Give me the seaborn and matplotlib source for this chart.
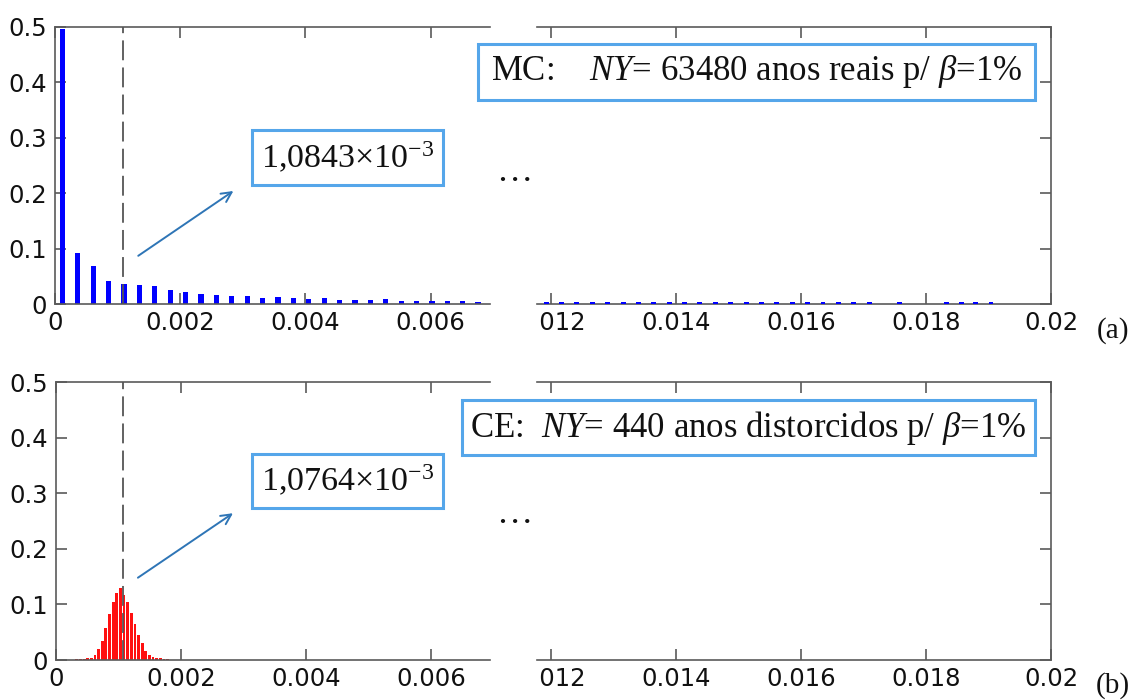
import matplotlib
matplotlib.use("Agg")
import matplotlib.pyplot as plt
from matplotlib.patches import Rectangle
from matplotlib.ticker import FixedLocator, FuncFormatter
import seaborn as sns

# ---- data -------------------------------------------------------------
# (a) Monte Carlo histogram, bins below 0.007
mc_left_x = [0.000118, 0.000364, 0.000610, 0.000856, 0.001102, 0.001348,
             0.001594, 0.001840, 0.002086, 0.002332, 0.002578, 0.002824,
             0.003070, 0.003316, 0.003562, 0.003808, 0.004054, 0.004300,
             0.004546, 0.004792, 0.005038, 0.005284, 0.005530, 0.005776,
             0.006022, 0.006268, 0.006514, 0.006760]
mc_left_p = [0.497, 0.092, 0.069, 0.041, 0.037, 0.035, 0.032, 0.025,
             0.021, 0.018, 0.016, 0.014, 0.0137, 0.011, 0.012, 0.010,
             0.0095, 0.010, 0.0078, 0.0078, 0.0078, 0.0085, 0.0054,
             0.0054, 0.0054, 0.0054, 0.0054, 0.0036]
# (a) Monte Carlo histogram, tail bins above 0.0118
mc_right_x = [0.011926, 0.012172, 0.012418, 0.012664, 0.012910, 0.013156,
              0.013402, 0.013648, 0.013894, 0.014140, 0.014386, 0.014632,
              0.014878, 0.015124, 0.015370, 0.015616, 0.015862, 0.016108,
              0.016354, 0.016600, 0.016846, 0.017092, 0.017584, 0.018322,
              0.018568, 0.018800, 0.019040]
mc_right_p = [0.0032, 0.0032, 0.0032, 0.003, 0.003, 0.003, 0.003, 0.003,
              0.003, 0.003, 0.003, 0.003, 0.003, 0.003, 0.003, 0.003,
              0.003, 0.003, 0.003, 0.003, 0.003, 0.003, 0.003, 0.003,
              0.003, 0.003, 0.0028]

# (b) cross-entropy histogram
ce_x = [0.000334, 0.000392, 0.000450, 0.000508, 0.000566, 0.000624,
        0.000682, 0.000740, 0.000798, 0.000856, 0.000914, 0.000972,
        0.001030, 0.001088, 0.001146, 0.001204, 0.001262, 0.001320,
        0.001378, 0.001436, 0.001494, 0.001552, 0.001610, 0.001668,
        0.001726, 0.001784]
ce_p = [0.0015, 0.002, 0.002, 0.003, 0.004, 0.009, 0.019, 0.035, 0.057,
        0.082, 0.104, 0.121, 0.129, 0.117, 0.104, 0.085, 0.064, 0.045,
        0.030, 0.017, 0.009, 0.005, 0.004, 0.003, 0.002, 0.002]

mc_estimate = 1.0843e-3
ce_estimate = 1.0764e-3

left_xticks = [0, 0.002, 0.004, 0.006]
right_xticks = [0.012, 0.014, 0.016, 0.018, 0.02]
yticks = [0, 0.1, 0.2, 0.3, 0.4, 0.5]

mc_label = "MC:    $\\mathit{NY}$= 63480 anos reais p/ $\\mathit{\\beta}$=1%"
ce_label = "CE:  $\\mathit{NY}$= 440 anos distorcidos p/ $\\mathit{\\beta}$=1%"

# ---- style ------------------------------------------------------------
sns.set_style("white")
plt.rcParams["font.family"] = ["DejaVu Sans"]
plt.rcParams["mathtext.fontset"] = "custom"
plt.rcParams["mathtext.rm"] = "Liberation Serif"
plt.rcParams["mathtext.it"] = "Liberation Serif:italic"
plt.rcParams["mathtext.bf"] = "Liberation Serif:bold"

AXIS_GRAY = "#5a5a5a"
BOX_BLUE = "#55a6ea"
ARROW_BLUE = "#2e75b6"
SERIF = "Liberation Serif"

W, H = 1134, 700
fig = plt.figure(figsize=(W / 100, H / 100), dpi=100)
fig.patch.set_facecolor("white")


def add_ax(x0, x1, y0, y1):
    return fig.add_axes([x0 / W, 1 - y1 / H, (x1 - x0) / W, (y1 - y0) / H])


ax_tl = add_ax(55, 490, 27, 304)
ax_tr = add_ax(537, 1051, 27, 304)
ax_bl = add_ax(56, 490, 382, 660)
ax_br = add_ax(537, 1051, 382, 660)

fmt = FuncFormatter(lambda v, p: f"{v:g}")


def style_axes(ax, side, xlim, xticks):
    ax.set_xlim(*xlim)
    ax.set_ylim(0, 0.5)
    ax.set_xlabel("")
    ax.set_ylabel("")
    ax.xaxis.set_major_locator(FixedLocator(xticks))
    ax.yaxis.set_major_locator(FixedLocator(yticks))
    ax.xaxis.set_major_formatter(fmt)
    ax.yaxis.set_major_formatter(fmt)
    for s in ax.spines.values():
        s.set_color(AXIS_GRAY)
        s.set_linewidth(1.2)
    common = dict(direction="in", length=8, width=1.2, color=AXIS_GRAY,
                  labelcolor="#111111", labelsize=17.5)
    ax.tick_params(axis="x", top=True, bottom=True, labeltop=False,
                   labelbottom=True, pad=5, **common)
    if side == "left":
        ax.spines["right"].set_visible(False)
        ax.tick_params(axis="y", left=True, right=False, labelleft=True,
                       labelright=False, pad=6, **common)
    else:
        ax.spines["left"].set_visible(False)
        ax.tick_params(axis="y", left=False, right=True, labelleft=False,
                       labelright=False, **common)
    ax.set_facecolor("white")


# ---- bars -------------------------------------------------------------
sns.barplot(x=mc_left_x, y=mc_left_p, native_scale=True, width=0.34,
            color="#0000ff", saturation=1, errorbar=None, ax=ax_tl,
            linewidth=0)
sns.barplot(x=mc_right_x, y=mc_right_p, native_scale=True, width=0.34,
            color="#0000ff", saturation=1, errorbar=None, ax=ax_tr,
            linewidth=0)
sns.barplot(x=ce_x, y=ce_p, native_scale=True, width=0.78,
            color="#ff1010", saturation=1, errorbar=None, ax=ax_bl,
            linewidth=0)
# the tail bins are barely taller than the axis line: keep them above it
for bar in ax_tr.patches:
    bar.set_zorder(3)

style_axes(ax_tl, "left", (0, 0.00695), left_xticks)
style_axes(ax_tr, "right", (0.01178, 0.02), right_xticks)
style_axes(ax_bl, "left", (0, 0.00694), left_xticks)
style_axes(ax_br, "right", (0.01178, 0.02), right_xticks)

# mean estimate markers
for ax, val in ((ax_tl, mc_estimate), (ax_bl, ce_estimate)):
    ax.axvline(val, color="#555555", lw=1.3, ls=(0, (11, 4)), zorder=3)

# arrows pointing from the estimate towards its value box
ax_tl.annotate("", xy=(0.00285, 0.204), xytext=(0.00133, 0.087),
               arrowprops=dict(arrowstyle="->", color=ARROW_BLUE, lw=1.4,
                               mutation_scale=18, shrinkA=0, shrinkB=0))
ax_bl.annotate("", xy=(0.00283, 0.264), xytext=(0.00131, 0.148),
               arrowprops=dict(arrowstyle="->", color=ARROW_BLUE, lw=1.4,
                               mutation_scale=18, shrinkA=0, shrinkB=0))

# blank strip of the broken axis under the gap
for y0, y1 in ((306, 350), (662, 700)):
    fig.add_artist(Rectangle((491 / W, 1 - y1 / H), (537 - 491) / W,
                             (y1 - y0) / H, transform=fig.transFigure,
                             facecolor="white", edgecolor="none", zorder=2.5))


def boxed_text(x0, x1, y0, y1, text, size):
    fig.add_artist(Rectangle((x0 / W, 1 - y1 / H), (x1 - x0) / W,
                             (y1 - y0) / H, transform=fig.transFigure,
                             facecolor="white", edgecolor=BOX_BLUE,
                             linewidth=2.2, zorder=3))
    fig.text((x0 + x1) / 2 / W, 1 - (y0 + y1) / 2 / H, text, ha="center",
             va="center", fontsize=size, family=SERIF, color="#111111",
             zorder=4)


def sci_label(v):
    return f"{v * 1e3:.4f}".replace(".", ",") + "×10$^{\\mathrm{-3}}$"


boxed_text(478, 1035, 44, 100, mc_label, 25)
boxed_text(462, 1035, 400, 455, ce_label, 25)
boxed_text(252, 443, 130, 185, sci_label(mc_estimate), 24.5)
boxed_text(252, 443, 454, 508, sci_label(ce_estimate), 24.5)

# ellipsis in the axis gap
for yb in (181, 523):
    fig.text(514 / W, 1 - yb / H, "…", ha="center", va="baseline",
             fontsize=26, family=SERIF, color="#111111", zorder=4)

# panel letters
fig.text(1113 / W, 1 - 331 / H, "(a)", ha="center", va="center",
         fontsize=21, family=SERIF, color="#111111")
fig.text(1113 / W, 1 - 686 / H, "(b)", ha="center", va="center",
         fontsize=21, family=SERIF, color="#111111")

fig.savefig("out.png", dpi=100, facecolor="white")
